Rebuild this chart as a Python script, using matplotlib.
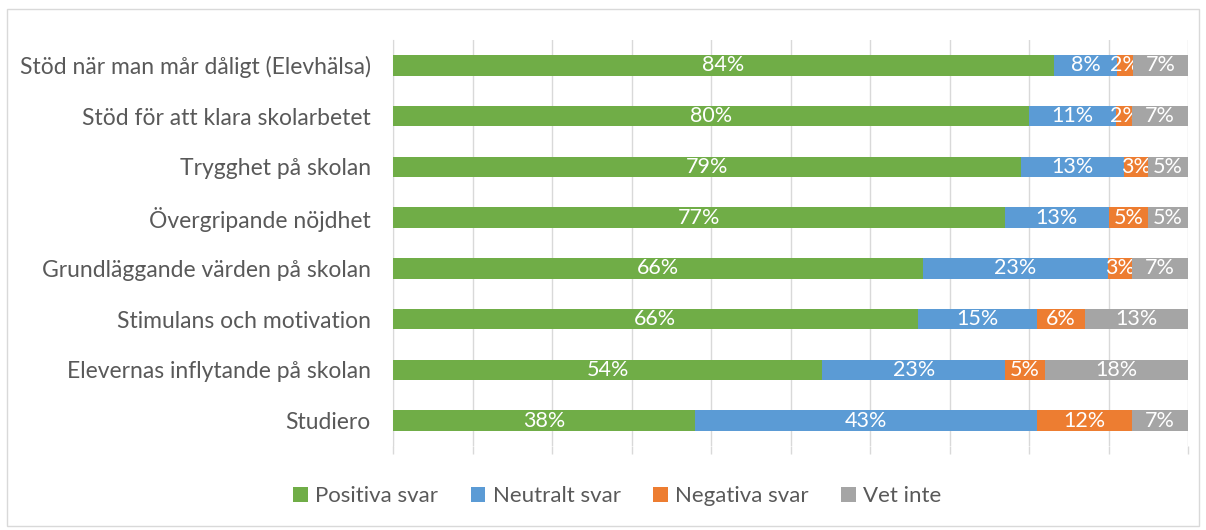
import matplotlib.pyplot as plt
import numpy as np
from matplotlib.patches import Rectangle

categories = ['Stöd när man mår dåligt (Elevhälsa)', 'Stöd för att klara skolarbetet',
              'Trygghet på skolan', 'Övergripande nöjdhet', 'Grundläggande värden på skolan',
              'Stimulans och motivation', 'Elevernas inflytande på skolan', 'Studiero']
positiva = [84, 80, 79, 77, 66, 66, 54, 38]
neutralt = [8, 11, 13, 13, 23, 15, 23, 43]
negativa = [2, 2, 3, 5, 3, 6, 5, 12]
vet_inte = [7, 7, 5, 5, 7, 13, 18, 7]
series_names = ['Positiva svar', 'Neutralt svar', 'Negativa svar', 'Vet inte']
colors = ['#70AD47', '#5B9BD5', '#ED7D31', '#A5A5A5']

plt.rcParams['font.family'] = ['Lato', 'DejaVu Sans']

fig = plt.figure(figsize=(12.06, 5.30), dpi=100)
fig.patches.append(Rectangle((0.006, 0.008), 0.988, 0.975, transform=fig.transFigure,
                             fill=False, edgecolor='#D9D9D9', linewidth=1))
ax = fig.add_axes([393 / 1206, 1 - 446 / 530, 795 / 1206, 406 / 530])

data = np.array([positiva, neutralt, negativa, vet_inte], dtype=float)
totals = data.sum(axis=0)
shares = data / totals
y = np.arange(len(categories))
left = np.zeros(len(categories))
for i in range(len(series_names)):
    bars = ax.barh(y, shares[i], left=left, height=0.4, color=colors[i], label=series_names[i], zorder=3)
    labels = ['%d%%' % v for v in data[i]]
    ax.bar_label(bars, labels=labels, label_type='center', color='white', fontsize=15.5)
    left += shares[i]

ax.set_xlim(0, 1)
ax.set_ylim(len(categories) - 0.5, -0.5)
ax.set_yticks(y)
ax.set_yticklabels(categories, fontsize=16.5, color='#595959')
ax.tick_params(axis='y', length=0, pad=16)
ax.set_xticks(np.linspace(0, 1, 11))
ax.set_xticklabels([])
ax.tick_params(axis='x', length=6, color='#D9D9D9', width=1)
ax.grid(axis='x', color='#D9D9D9', linewidth=1, zorder=0)
for s in ['top', 'right', 'bottom']:
    ax.spines[s].set_visible(False)
ax.spines['left'].set_color('#D9D9D9')

leg = fig.legend(loc='center', bbox_to_anchor=(0.512, 1 - 496 / 530), ncol=4, frameon=False,
                 fontsize=16, handlelength=0.65, handleheight=0.65, columnspacing=1.45,
                 handletextpad=0.35)
for t in leg.get_texts():
    t.set_color('#595959')

fig.savefig('out.png', dpi=100)
